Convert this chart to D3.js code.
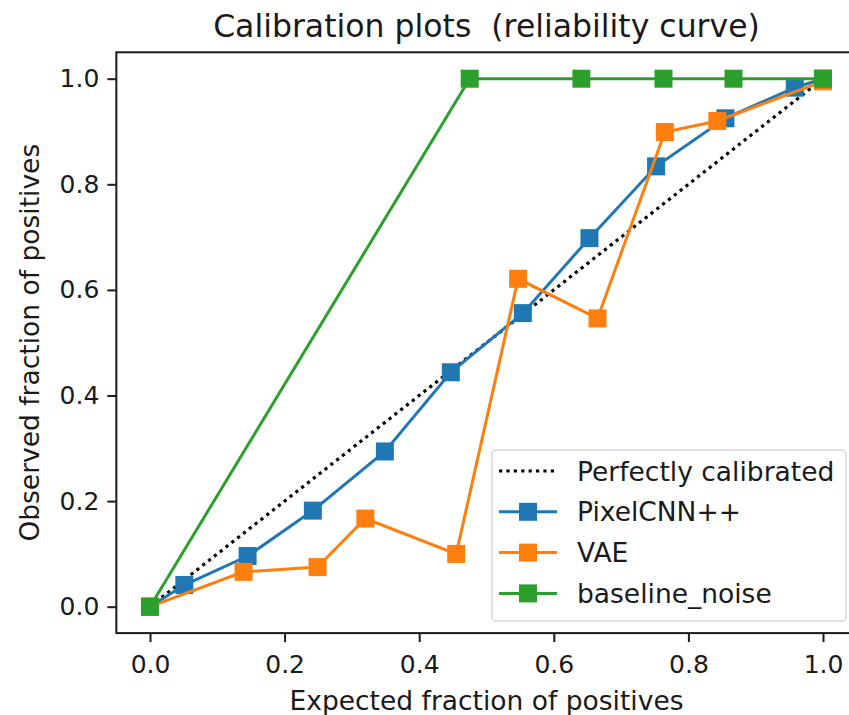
<!DOCTYPE html>
<html lang="en">
<head>
    <meta charset="UTF-8">
    <script src="https://d3js.org/d3.v7.min.js"></script>
    <title>Calibration plots</title>
    <style>
        body { margin: 0; background: white; }
        svg { display: block; font-family: "DejaVu Sans", sans-serif; }
        text { white-space: pre; }
    </style>
</head>
<body>
    <div class="chart"></div>
    <script>
        // data
        const perfectX = [0, 1];
        const perfectY = [0, 1];

        const pixelX = [0.0, 0.051, 0.145, 0.242, 0.349, 0.447, 0.554, 0.653, 0.752, 0.855, 0.958, 1.0];
        const pixelY = [0.0, 0.041, 0.096, 0.182, 0.294, 0.444, 0.556, 0.698, 0.834, 0.925, 0.983, 1.0];

        const vaeX = [0.0, 0.139, 0.249, 0.320, 0.455, 0.547, 0.665, 0.765, 0.843, 1.0];
        const vaeY = [0.0, 0.066, 0.075, 0.167, 0.100, 0.621, 0.546, 0.899, 0.920, 0.995];

        const noiseX = [0.0, 0.475, 0.641, 0.763, 0.867, 1.0];
        const noiseY = [0.0, 1.0, 1.0, 1.0, 1.0, 1.0];

        const ticks = [0, 0.2, 0.4, 0.6, 0.8, 1.0];

        const series = [
            { name: "PixelCNN++", xs: pixelX, ys: pixelY, color: "#1f77b4" },
            { name: "VAE", xs: vaeX, ys: vaeY, color: "#ff7f0e" },
            { name: "baseline_noise", xs: noiseX, ys: noiseY, color: "#2ca02c" }
        ];

        const width = 849, height = 715;
        const textColor = "#1a1a1a";
        const svg = d3.select(".chart").append("svg")
            .attr("width", width)
            .attr("height", height);

        // plot area: x 0 -> 150px, 1 -> 823px ; y 0 -> 606.7px, 1 -> 78.7px
        const x = d3.scaleLinear().domain([-0.05, 1.05]).range([116.35, 856.65]);
        const y = d3.scaleLinear().domain([-0.05, 1.05]).range([633.1, 52.3]);

        const plot = svg.append("g");

        // clip to the axes box
        svg.append("clipPath").attr("id", "clip")
            .append("rect")
            .attr("x", x(-0.05)).attr("y", y(1.05))
            .attr("width", x(1.05) - x(-0.05))
            .attr("height", y(-0.05) - y(1.05));

        const line = d3.line().x(d => x(d[0])).y(d => y(d[1]));

        const lines = plot.append("g").attr("clip-path", "url(#clip)");

        const dotted = "3.2,4.2";
        lines.append("path")
            .attr("d", line(d3.zip(perfectX, perfectY)))
            .attr("fill", "none")
            .attr("stroke", "#000")
            .attr("stroke-width", 3.2)
            .attr("stroke-dasharray", dotted);

        const ms = 18;
        series.forEach(s => {
            const pts = d3.zip(s.xs, s.ys);
            lines.append("path")
                .attr("d", line(pts))
                .attr("fill", "none")
                .attr("stroke", s.color)
                .attr("stroke-width", 3);
            lines.selectAll(null)
                .data(pts)
                .enter()
                .append("rect")
                .attr("x", d => x(d[0]) - ms / 2)
                .attr("y", d => y(d[1]) - ms / 2)
                .attr("width", ms)
                .attr("height", ms)
                .attr("fill", s.color);
        });

        // axes
        const xAxis = d3.axisBottom(x).tickValues(ticks).tickFormat(d3.format(".1f"))
            .tickSize(9).tickPadding(12);
        const yAxis = d3.axisLeft(y).tickValues(ticks).tickFormat(d3.format(".1f"))
            .tickSize(9).tickPadding(8);

        const gx = svg.append("g")
            .attr("transform", `translate(0,${y(-0.05)})`)
            .call(xAxis);
        const gy = svg.append("g")
            .attr("transform", `translate(${x(-0.05)},0)`)
            .call(yAxis);
        [gx, gy].forEach(g => {
            g.select(".domain").remove();
            g.selectAll(".tick line").attr("stroke", textColor).attr("stroke-width", 2);
            g.selectAll(".tick text")
                .attr("font-size", 25)
                .attr("font-family", "DejaVu Sans")
                .attr("fill", textColor);
        });
        gx.selectAll(".tick text").attr("dy", null).attr("y", 9 + 12 + 18.5);

        // frame
        svg.append("rect")
            .attr("x", x(-0.05)).attr("y", y(1.05))
            .attr("width", x(1.05) - x(-0.05))
            .attr("height", y(-0.05) - y(1.05))
            .attr("fill", "none")
            .attr("stroke", textColor)
            .attr("stroke-width", 2);

        // title and labels
        const cx = (x(-0.05) + x(1.05)) / 2;
        svg.append("text")
            .attr("x", cx).attr("y", 37)
            .attr("text-anchor", "middle")
            .attr("font-size", 31.5)
            .attr("fill", textColor)
            .text("Calibration plots  (reliability curve)");

        svg.append("text")
            .attr("x", cx).attr("y", 710)
            .attr("text-anchor", "middle")
            .attr("font-size", 26.5)
            .attr("fill", textColor)
            .text("Expected fraction of positives");

        svg.append("text")
            .attr("transform", `translate(39,${(y(-0.05) + y(1.05)) / 2}) rotate(-90)`)
            .attr("text-anchor", "middle")
            .attr("font-size", 26.5)
            .attr("fill", textColor)
            .text("Observed fraction of positives");

        // legend
        const legend = svg.append("g");
        legend.append("rect")
            .attr("x", 492).attr("y", 450)
            .attr("width", 354).attr("height", 171)
            .attr("rx", 4)
            .attr("fill", "white")
            .attr("fill-opacity", 0.8)
            .attr("stroke", "#d6d6d6")
            .attr("stroke-width", 1.5);

        const entries = [{ name: "Perfectly calibrated", color: "#000", dotted: true }].concat(series);
        entries.forEach((e, i) => {
            const yy = 471 + i * 40.8;
            legend.append("line")
                .attr("x1", 499).attr("x2", 557)
                .attr("y1", yy).attr("y2", yy)
                .attr("stroke", e.color)
                .attr("stroke-width", e.dotted ? 3.2 : 3)
                .attr("stroke-dasharray", e.dotted ? dotted : null);
            if (!e.dotted) {
                legend.append("rect")
                    .attr("x", 528 - ms / 2).attr("y", yy - ms / 2)
                    .attr("width", ms).attr("height", ms)
                    .attr("fill", e.color);
            }
            legend.append("text")
                .attr("x", 577).attr("y", yy + 9.5)
                .attr("font-size", 26.5)
                .attr("fill", textColor)
                .text(e.name);
        });
    </script>
</body>
</html>
